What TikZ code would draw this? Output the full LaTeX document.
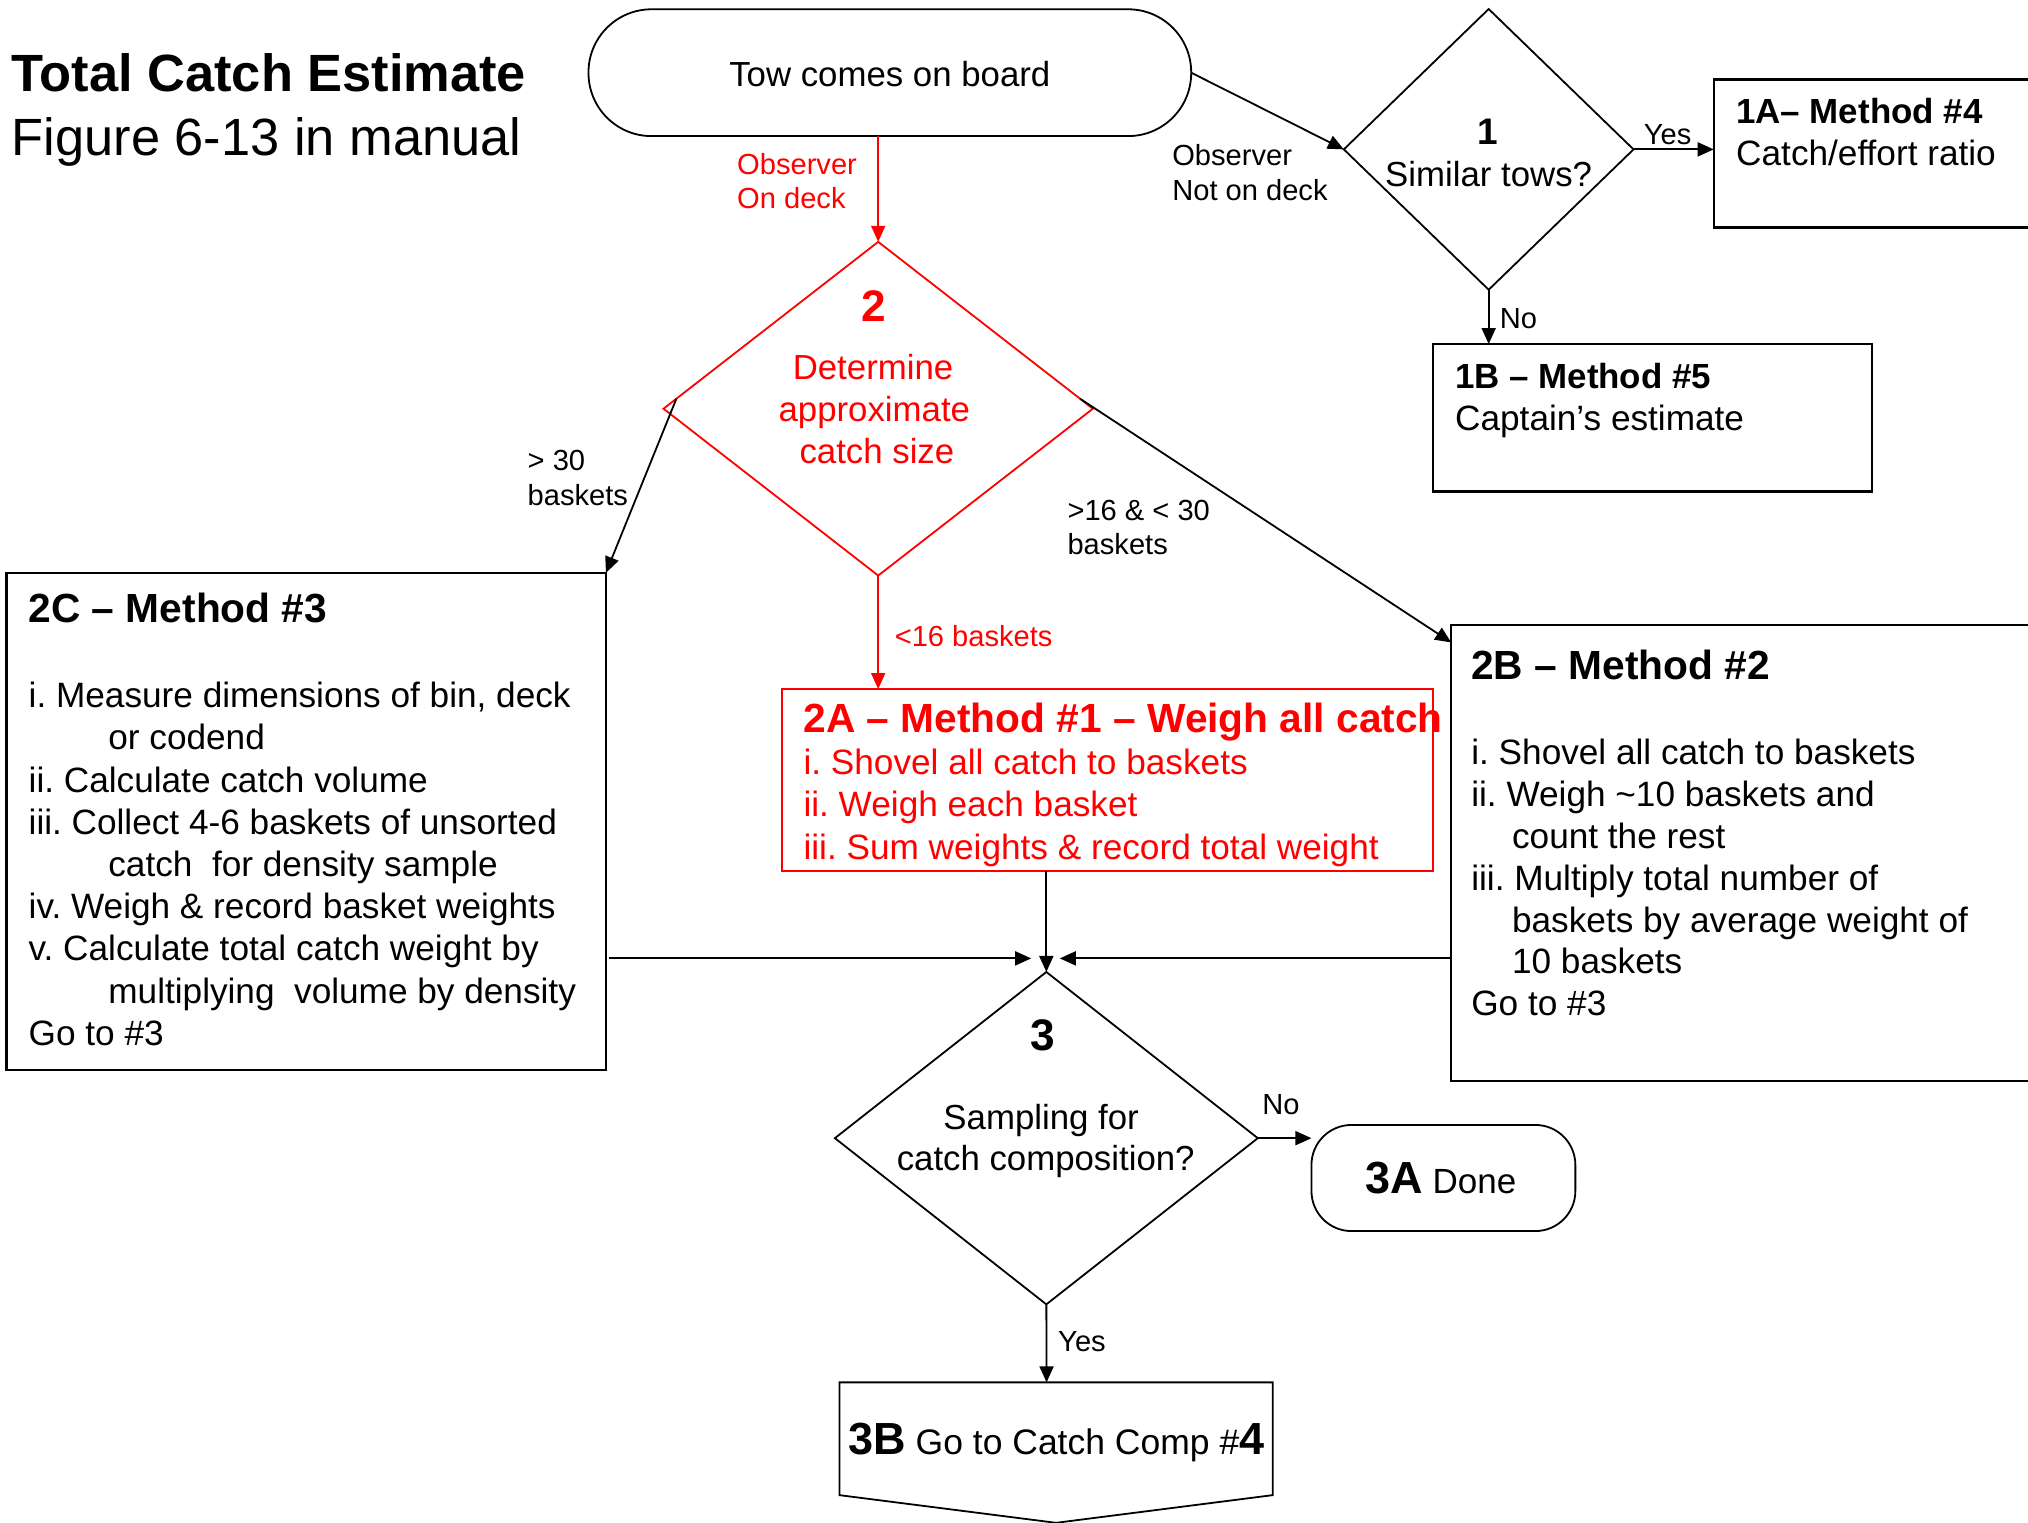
\documentclass[tikz,border=0pt]{standalone}
\usepackage{fontspec}
\setmainfont{Liberation Sans}
\usetikzlibrary{shapes.geometric,arrows.meta,calc}
\definecolor{flowred}{RGB}{255,0,0}
\newcommand\myBigBf[1]{{\fontsize{45}{50}\selectfont\bfseries #1}}
\frenchspacing
\begin{document}
\begin{tikzpicture}[x=1.2934pt,y=-1.2934pt,
  every node/.style={inner sep=0pt,outer sep=0pt},
  lbl/.style={font=\fontsize{29.1}{35}\selectfont,anchor=base west},
  body/.style={font=\fontsize{35.2}{42}\selectfont,anchor=base west},
  bodyc/.style={font=\fontsize{34.8}{42}\selectfont,anchor=base},
  headbig/.style={font=\fontsize{40.7}{48}\selectfont\bfseries,anchor=base west},
  headsm/.style={font=\fontsize{34.9}{42}\selectfont\bfseries,anchor=base west},
  numtxt/.style={font=\fontsize{44.2}{50}\selectfont\bfseries,anchor=base},
  boxshape/.style={draw,line width=2.4pt,rectangle},
  decshape/.style={draw,line width=1.8pt,diamond},
  termshape/.style={draw,line width=1.8pt,rectangle},
  conn/.style={line width=1.8pt,-{Triangle[length=16pt,width=14pt]}},
  redconn/.style={conn,flowred},
]
\useasboundingbox (0,0) rectangle (1568,1177);
\clip (0,0) rectangle (1568,1177);

% ---------- title ----------
\node[font=\fontsize{52.4}{60}\selectfont\bfseries,anchor=base west] (title1) at (9,71) {Total Catch Estimate};
\node[font=\fontsize{52.4}{60}\selectfont,anchor=base west] (title2) at (9,120) {Figure 6-13 in manual};

% ---------- shapes ----------
\node[termshape,rounded corners=63pt,minimum width=602.7pt,minimum height=126.8pt] (tow) at (688,56.2) {};
\node[bodyc] (towtxt) at (688,66.5) {Tow comes on board};

\node[decshape,minimum width=289.7pt,minimum height=280.7pt] (d1) at (1151,115.5) {};
\node[font=\fontsize{37}{42}\selectfont\bfseries,anchor=base] (d1num) at (1150,112.1) {1};
\node[bodyc] (d1txt) at (1151,144.5) {Similar tows?};

\node[boxshape,minimum width=355.7pt,minimum height=148.1pt] (b1a) at (1462.5,118.75) {};
\node[headsm] (b1ah) at (1342.4,95.4) {1A-- Method \#4};
\node[body] (b1at) at (1342.4,128.2) {Catch/effort ratio};

\node[boxshape,minimum width=439.1pt,minimum height=147.4pt] (b1b) at (1277.75,323) {};
\node[headsm] (b1bh) at (1125.1,300.5) {1B -- Method \#5};
\node[body] (b1bt) at (1125.1,332.5) {Captain's estimate};

\node[decshape,draw=flowred,minimum width=429.4pt,minimum height=333.7pt] (d2) at (679,316) {};
\node[numtxt,text=flowred] (d2num) at (675.2,248.7) {2};
\node[bodyc,text=flowred] (d2t1) at (675,293.5) {Determine};
\node[bodyc,text=flowred] (d2t2) at (676,326) {approximate};
\node[bodyc,text=flowred] (d2t3) at (678,358.5) {catch size};

% 2C box
\node[boxshape,minimum width=599.5pt,minimum height=497.3pt] (b2c) at (236.75,635.15) {};
\node[headbig] (b2ch) at (22.2,481.4) {2C -- Method \#3};
\node[body] (b2c1) at (22.2,547.3) {i. Measure dimensions of bin, deck};
\node[body] (b2c2) at (83.8,579.8) {or codend};
\node[body] (b2c3) at (22.2,612.4) {ii. Calculate catch volume};
\node[body] (b2c4) at (22.2,645.0) {iii. Collect 4-6 baskets of unsorted};
\node[body] (b2c5) at (83.8,677.6) {catch\ \ for density sample};
\node[body] (b2c6) at (22.2,710.3) {iv. Weigh \& record basket weights};
\node[body] (b2c7) at (22.2,742.9) {v. Calculate total catch weight by};
\node[body] (b2c8) at (83.8,775.5) {multiplying\ \ volume by density};
\node[body] (b2c9) at (22.2,808.1) {Go to \#3};

% 2A box
\node[boxshape,draw=flowred,minimum width=651.2pt,minimum height=181.9pt] (b2a) at (856.25,603.1) {};
\node[headbig,text=flowred] (b2ah) at (621.3,566.2) {2A -- Method \#1 -- Weigh all catch};
\node[body,text=flowred] (b2a1) at (621.3,598.8) {i. Shovel all catch to baskets};
\node[body,text=flowred] (b2a2) at (621.3,631.5) {ii. Weigh each basket};
\node[body,text=flowred] (b2a3) at (621.3,664.2) {iii. Sum weights \& record total weight};

% 2B box
\node[boxshape,minimum width=618.2pt,minimum height=456.1pt] (b2b) at (1361,659.4) {};
\node[headbig] (b2bh) at (1137.6,525.4) {2B -- Method \#2};
\node[body] (b2b1) at (1137.6,590.8) {i. Shovel all catch to baskets};
\node[body] (b2b2) at (1137.6,623.4) {ii. Weigh \textasciitilde10 baskets and};
\node[body] (b2b3) at (1169.1,655.8) {count the rest};
\node[body] (b2b4) at (1137.6,688.2) {iii. Multiply total number of};
\node[body] (b2b5) at (1169.1,720.6) {baskets by average weight of};
\node[body] (b2b6) at (1169.1,753.0) {10 baskets};
\node[body] (b2b7) at (1137.6,785.0) {Go to \#3};

% decision 3
\node[decshape,minimum width=422.9pt,minimum height=332.4pt] (d3) at (809,880) {};
\node[numtxt] (d3num) at (806,812) {3};
\node[bodyc] (d3t1) at (805,873.2) {Sampling for};
\node[bodyc] (d3t2) at (808.5,905.1) {catch composition?};

% 3A terminal
\node[termshape,rounded corners=40pt,minimum width=263.9pt,minimum height=106.1pt] (t3a) at (1116,910.8) {};
\node[anchor=base west,font=\fontsize{35}{42}\selectfont] (t3atxt) at (1055.7,922.9) {\myBigBf{3A} Done};

% 3B off-page connector
\coordinate (b3nw) at (649,1068.8);
\coordinate (b3ne) at (984,1068.8);
\coordinate (b3top) at (809.2,1068.8);
\draw[line width=1.8pt] (b3nw) -- (b3ne) -- (984,1156) -- (816.5,1177.4) -- (649,1156) -- cycle;
\node[anchor=base west,font=\fontsize{35.5}{42}\selectfont] (b3txt) at (655.9,1124.9) {\myBigBf{3B} Go to Catch Comp \#\myBigBf{4}};

% ---------- connectors ----------
\draw[redconn] (d2.north |- tow.south) -- (d2.north);
\node[lbl,text=flowred] (lobs1) at (570,135) {Observer};
\node[lbl,text=flowred] (lobs2) at (570,161) {On deck};

\draw[conn] (tow.east) -- (d1.west);
\node[lbl] (lnot1) at (906.4,128.2) {Observer};
\node[lbl] (lnot2) at (906.4,155.1) {Not on deck};

\draw[conn] (d1.east) -- (d1.east -| b1a.west);
\node[lbl] (lyes1) at (1271,112) {Yes};
\draw[conn] (d1.south) -- (d1.south |- b1b.north);
\node[lbl] (lno1) at (1159.7,254) {No};

\draw[conn] ($(d2.west)!0.06!(d2.north)$) -- (b2c.north east);
\node[lbl] (lgt30a) at (408,364) {> 30};
\node[lbl] (lgt30b) at (408,390.6) {baskets};

\draw[conn] ($(d2.east)!0.06!(d2.north)$) -- ($(b2b.north west)+(0,13.6)$);
\node[lbl] (lmida) at (825.4,402.4) {>16 \& < 30};
\node[lbl] (lmidb) at (825.4,428.5) {baskets};

\draw[redconn] (d2.south) -- (d2.south |- b2a.north);
\node[lbl,text=flowred] (llt16) at (691.8,500) {<16 baskets};

\coordinate (c3l) at (797.3,741);
\coordinate (c3r) at (819.4,741);
\draw[conn] (d3.north |- b2a.south) -- (d3.north);
\draw[conn] ($(b2c.east |- c3l)+(2.5,0)$) -- (c3l);
\draw[conn] (b2b.west |- c3r) -- (c3r);

\draw[conn] (d3.east) -- (d3.east -| t3a.west);
\node[lbl] (lno3) at (976,862) {No};
\draw[conn] (d3.south) -- (b3top);
\node[lbl] (lyes3) at (818.2,1044.7) {Yes};
\end{tikzpicture}
\end{document}
